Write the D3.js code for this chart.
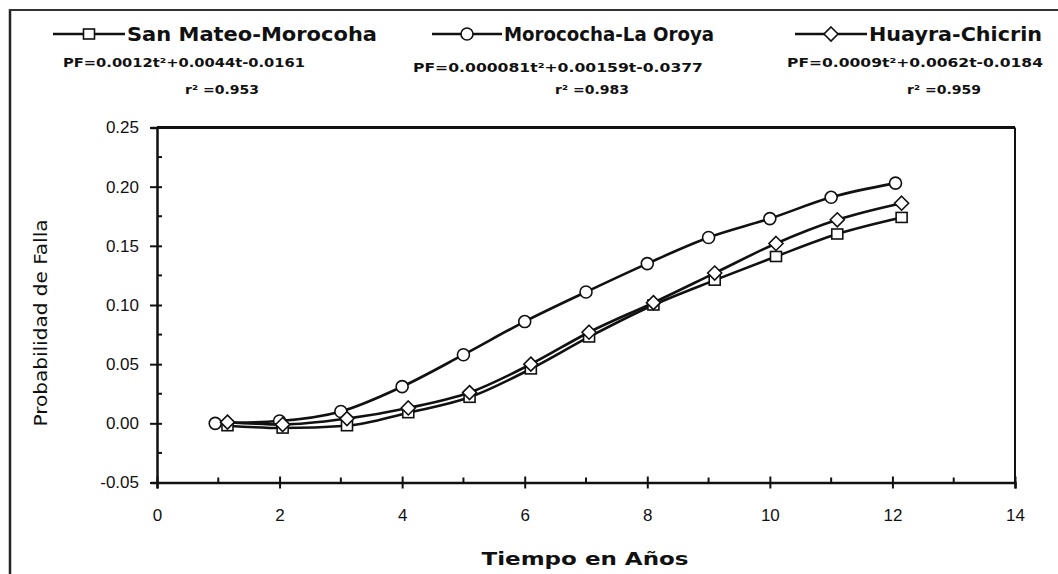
<!DOCTYPE html>
<html>
<head>
<meta charset="utf-8">
<script src="https://cdn.jsdelivr.net/npm/d3@7"></script>
<style>
  body { margin: 0; background: #fff; }
  svg { display: block; }
  text { font-family: "DejaVu Sans", Arial, sans-serif; fill: #111; }
</style>
</head>
<body>
<div id="chart"></div>
<script>
// series names and fit labels
const seriesNames = ['San Mateo-Morocoha', 'Morococha-La Oroya', 'Huayra-Chicrin'];
const equations = [
    'PF=0.0012t\u00b2+0.0044t-0.0161',
    'PF=0.000081t\u00b2+0.00159t-0.0377',
    'PF=0.0009t\u00b2+0.0062t-0.0184'
];
const rSquared = ['r\u00b2 =0.953', 'r\u00b2 =0.983', 'r\u00b2 =0.959'];

// time (years) for each series
const tSanMateo = [1.15, 2.05, 3.1, 4.1, 5.1, 6.1, 7.05, 8.1, 9.1, 10.1, 11.1, 12.15];
const tMorococha = [0.95, 2, 3, 4, 5, 6, 7, 8, 9, 10, 11, 12.05];
const tHuayra = [1.15, 2.05, 3.1, 4.1, 5.1, 6.1, 7.05, 8.1, 9.1, 10.1, 11.1, 12.15];

// probability of failure
const pfSanMateo = [-0.002, -0.004, -0.002, 0.009, 0.022, 0.046, 0.073, 0.100, 0.121, 0.141, 0.160, 0.174];
const pfMorococha = [0.000, 0.002, 0.010, 0.031, 0.058, 0.086, 0.111, 0.135, 0.157, 0.173, 0.191, 0.203];
const pfHuayra = [0.001, -0.001, 0.004, 0.013, 0.026, 0.050, 0.077, 0.102, 0.127, 0.152, 0.172, 0.186];

const xTicks = [0, 2, 4, 6, 8, 10, 12, 14];
const yTicks = [-0.05, 0, 0.05, 0.10, 0.15, 0.20, 0.25];

const width = 1058;
const height = 574;
const margin = { top: 127.5, right: 43, bottom: 91.5, left: 157 };

const svg = d3.select('#chart')
    .append('svg')
    .attr('width', width)
    .attr('height', height);

// outer frame (left + top edges visible in the scan)
svg.append('line').attr('x1', 10).attr('x2', 10).attr('y1', 9).attr('y2', height)
    .attr('stroke', '#222').attr('stroke-width', 2.5);
svg.append('line').attr('x1', 9).attr('x2', width).attr('y1', 10).attr('y2', 10)
    .attr('stroke', '#333').attr('stroke-width', 2);

const x = d3.scaleLinear().domain([0, 14]).range([margin.left, width - margin.right]);
const y = d3.scaleLinear().domain([-0.05, 0.25]).range([height - margin.bottom, margin.top]);

// top and right plot border
svg.append('line')
    .attr('x1', x(0)).attr('x2', x(14)).attr('y1', y(0.25)).attr('y2', y(0.25))
    .attr('stroke', '#111').attr('stroke-width', 3);
svg.append('line')
    .attr('x1', x(14)).attr('x2', x(14)).attr('y1', y(0.25)).attr('y2', y(-0.05))
    .attr('stroke', '#111').attr('stroke-width', 2);

// x axis
const xAxis = svg.append('g')
    .attr('transform', `translate(0,${y(-0.05)})`)
    .call(d3.axisBottom(x).tickValues(xTicks).tickSize(6).tickFormat(d3.format('d')));
xAxis.select('.domain').attr('stroke', '#111').attr('stroke-width', 2.5);
xAxis.selectAll('.tick line').attr('y1', -6).attr('stroke', '#111').attr('stroke-width', 2);
xAxis.selectAll('.tick text').attr('y', 26).style('font-size', '17px').style('font-family', 'Arial, "Liberation Sans", sans-serif');

// x minor ticks
svg.append('g').selectAll('line')
    .data(d3.range(1, 14, 2))
    .join('line')
    .attr('x1', d => x(d)).attr('x2', d => x(d))
    .attr('y1', y(-0.05)).attr('y2', y(-0.05) - 5)
    .attr('stroke', '#111').attr('stroke-width', 2);

// y axis
const yAxis = svg.append('g')
    .attr('transform', `translate(${x(0)},0)`)
    .call(d3.axisLeft(y).tickValues(yTicks).tickSize(6).tickFormat(d3.format('.2f')));
yAxis.select('.domain').attr('stroke', '#111').attr('stroke-width', 2.5);
yAxis.selectAll('.tick line').attr('x1', -7).attr('x2', 5).attr('stroke', '#111').attr('stroke-width', 2);
yAxis.selectAll('.tick text').attr('x', -18).style('font-size', '17px').style('font-family', 'Arial, "Liberation Sans", sans-serif')
    .text(d => d3.format('.2f')(d).replace('\u2212', '-'));

// y minor ticks
svg.append('g').selectAll('line')
    .data(d3.range(-0.025, 0.25, 0.05))
    .join('line')
    .attr('x1', x(0)).attr('x2', x(0) + 5)
    .attr('y1', d => y(d)).attr('y2', d => y(d))
    .attr('stroke', '#111').attr('stroke-width', 2);

// axis titles
svg.append('text')
    .attr('x', 585).attr('y', 565)
    .attr('text-anchor', 'middle')
    .attr('textLength', 207).attr('lengthAdjust', 'spacingAndGlyphs')
    .style('font-size', '18px').style('font-weight', 'bold')
    .text('Tiempo en A\u00f1os');

svg.append('text')
    .attr('transform', 'translate(47,323) rotate(-90)')
    .attr('text-anchor', 'middle')
    .attr('textLength', 207).attr('lengthAdjust', 'spacingAndGlyphs')
    .style('font-size', '18px')
    .text('Probabilidad de Falla');

// marker shapes
const drawMarker = (g, shape) => {
    if (shape === 'square') {
        g.append('rect').attr('x', -5.5).attr('y', -5).attr('width', 11).attr('height', 10);
    } else if (shape === 'circle') {
        g.append('circle').attr('r', 6);
    } else {
        g.append('path').attr('d', 'M0,-7L7,0L0,7L-7,0Z');
    }
    g.selectAll('*').attr('fill', '#fff').attr('stroke', '#111').attr('stroke-width', 1.6);
};

const series = [
    { t: tSanMateo, v: pfSanMateo, shape: 'square' },
    { t: tMorococha, v: pfMorococha, shape: 'circle' },
    { t: tHuayra, v: pfHuayra, shape: 'diamond' }
];

const line = d3.line()
    .x(d => x(d[0]))
    .y(d => y(d[1]))
    .curve(d3.curveMonotoneX);

series.forEach(s => {
    const pts = s.t.map((t, i) => [t, s.v[i]]);
    svg.append('path')
        .datum(pts)
        .attr('d', line)
        .attr('fill', 'none')
        .attr('stroke', '#111')
        .attr('stroke-width', 2.6);
    svg.append('g').selectAll('g')
        .data(pts)
        .join('g')
        .attr('transform', d => `translate(${x(d[0])},${y(d[1])})`)
        .each(function () { drawMarker(d3.select(this), s.shape); });
});

// legend
const legendX = [53, 432, 795];
const legendLen = [72, 70, 72];
const nameLen = [250, 210, 173];
const eqX = [184, 558, 915];
const eqY = [67, 72, 67];
const eqLen = [242, 290, 256];
const rX = [222, 592, 944];

series.forEach((s, i) => {
    const lx = legendX[i];
    svg.append('line')
        .attr('x1', lx).attr('x2', lx + legendLen[i])
        .attr('y1', 34).attr('y2', 34)
        .attr('stroke', '#111').attr('stroke-width', 2.6);
    const mg = svg.append('g').attr('transform', `translate(${lx + legendLen[i] / 2},34)`);
    drawMarker(mg, s.shape);
    svg.append('text')
        .attr('x', lx + legendLen[i] + 2).attr('y', 41)
        .attr('textLength', nameLen[i]).attr('lengthAdjust', 'spacingAndGlyphs')
        .style('font-size', '19px').style('font-weight', 'bold')
        .text(seriesNames[i]);
    svg.append('text')
        .attr('x', eqX[i]).attr('y', eqY[i])
        .attr('text-anchor', 'middle')
        .attr('textLength', eqLen[i]).attr('lengthAdjust', 'spacingAndGlyphs')
        .style('font-size', '13px').style('font-weight', 'bold')
        .text(equations[i]);
    svg.append('text')
        .attr('x', rX[i]).attr('y', 94)
        .attr('text-anchor', 'middle')
        .attr('textLength', 74).attr('lengthAdjust', 'spacingAndGlyphs')
        .style('font-size', '13px').style('font-weight', 'bold')
        .text(rSquared[i]);
});
</script>
</body>
</html>
